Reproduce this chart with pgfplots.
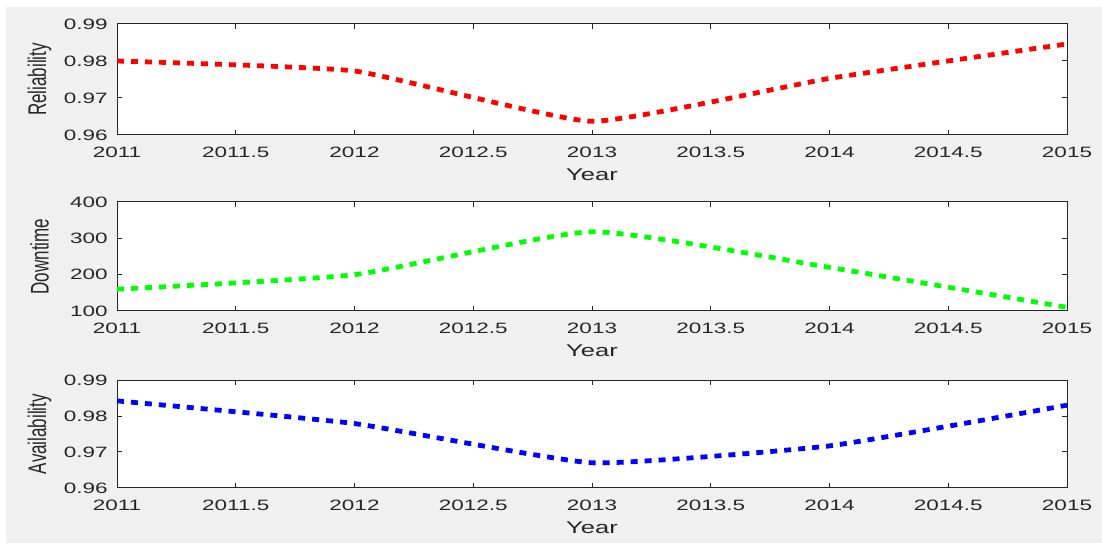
\documentclass[border=0pt]{standalone}
\usepackage{fontspec}
\setmainfont{Liberation Sans}
\newfontfamily\tickfont[FakeStretch=1.5]{Liberation Sans}
\usepackage{pgfplots}
\pgfplotsset{compat=1.18}
\definecolor{bg}{RGB}{240,240,240}
\definecolor{axc}{RGB}{38,38,38}
\pgfplotsset{mstyle/.style={
  scale only axis, width=475pt, anchor=south west,
  xmin=2011, xmax=2015,
  xtick={2011,2011.5,2012,2012.5,2013,2013.5,2014,2014.5,2015},
  xticklabels={2011,2011.5,2012,2012.5,2013,2013.5,2014,2014.5,2015},
  tick align=inside, major tick length=2.5pt,
  axis line style={axc, line width=0.5pt},
  every tick/.style={axc, line width=0.5pt},
  axis background/.style={fill=white},
  ticklabel style={font=\tickfont\fontsize{7.5}{8}\selectfont, text=axc, inner sep=0pt},
  xticklabel style={anchor=base, yshift=-11.5pt},
  yticklabel style={anchor=east, xshift=-4.5pt},
  xlabel={Year},
  xlabel style={font=\tickfont\fontsize{8.5}{9}\selectfont, text=axc, at={(axis description cs:0.5,0)}, anchor=center, yshift=-20pt},
  ylabel style={font=\fontsize{8.5}{9}\selectfont, text=axc, at={(axis description cs:-0.0816,0.5)}, anchor=center},
}}
\begin{document}
\begin{tikzpicture}
\useasboundingbox (0,0) rectangle (551pt,272.5pt);
\fill[white] (0,0) rectangle (551pt,272.5pt);
\fill[bg] (3pt,1pt) rectangle (551pt,269pt);

\begin{axis}[mstyle, at={(58.5pt,205pt)}, height=55.5pt,
  ymin=0.96, ymax=0.99, ytick={0.96,0.97,0.98,0.99}, yticklabels={0.96,0.97,0.98,0.99},
  ylabel={\scalebox{1}[1.5]{Reliability}}]
\addplot[red, line width=2.4pt, dash pattern=on 3.5pt off 3.5pt, smooth, tension=0.25] coordinates {
(2011,0.9800) (2012,0.9773) (2013,0.9637) (2014,0.9753) (2015,0.9846)};
\end{axis}

\begin{axis}[mstyle, at={(58.5pt,117pt)}, height=54.5pt,
  ymin=100, ymax=400, ytick={100,200,300,400}, yticklabels={100,200,300,400},
  ylabel={\scalebox{1}[1.5]{Downtime}}]
\addplot[green, line width=2.4pt, dash pattern=on 3.5pt off 3.5pt, smooth, tension=0.3] coordinates {
(2011,160) (2012,200) (2013,318) (2014,220) (2015,110)};
\end{axis}

\begin{axis}[mstyle, at={(58.5pt,28.5pt)}, height=54pt,
  ymin=0.96, ymax=0.99, ytick={0.96,0.97,0.98,0.99}, yticklabels={0.96,0.97,0.98,0.99},
  ylabel={\scalebox{1}[1.5]{Availability}}]
\addplot[blue, line width=2.4pt, dash pattern=on 3.5pt off 3.5pt, smooth, tension=0.25] coordinates {
(2011,0.9842) (2012,0.9779) (2013,0.9670) (2014,0.9717) (2015,0.9830)};
\end{axis}
\end{tikzpicture}
\end{document}
